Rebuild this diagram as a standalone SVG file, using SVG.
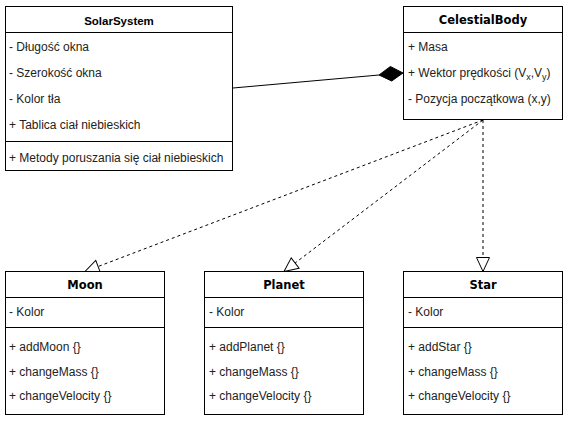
<svg xmlns="http://www.w3.org/2000/svg" width="570" height="425" viewBox="0 0 570 425">
<style>
.box{fill:#fff;stroke:#000;stroke-width:1}
.ln{stroke:#000;stroke-width:1;fill:none}
.title{font-family:"DejaVu Sans",Verdana,sans-serif;font-weight:bold;font-size:11.5px;fill:#000;text-anchor:middle}
.title2{font-family:"Liberation Sans",Arial,sans-serif;font-weight:bold;font-size:11.5px;fill:#000;text-anchor:middle}
.item{font-family:"Liberation Sans",Arial,sans-serif;font-size:12px;fill:#222}
.dash{stroke:#000;stroke-width:1;fill:none;stroke-dasharray:3 3}
</style>
<defs>
<marker id="tri" markerUnits="userSpaceOnUse" markerWidth="18" markerHeight="18" refX="14" refY="7" orient="auto" overflow="visible">
<path d="M0,0.5 L14,7 L0,13.5 z" fill="#fff" stroke="#000" stroke-width="1" stroke-dasharray="none"/>
</marker>
</defs>
<rect width="570" height="425" fill="#fff"/>
<g id="connectors">
<path class="ln" d="M233,88 L379,75"/>
<polygon points="403,73 391.7,81 379,75 390.4,66.5" fill="#000" stroke="#000" stroke-width="1"/>
<path class="dash" d="M483,120 L85,271.5" marker-end="url(#tri)"/>
<path class="dash" d="M483,120 L284,271.5" marker-end="url(#tri)"/>
<path class="dash" d="M483,120 L483,271.5" marker-end="url(#tri)"/>
</g>
<g id="SolarSystem">
<rect class="box" x="5.5" y="6.5" width="227" height="164"/>
<path class="ln" d="M5.5,32.5 H232.5 M5.5,141.5 H232.5"/>
<text class="title2" x="119" y="25">SolarSystem</text>
<text class="item" x="9" y="51">- Długość okna</text>
<text class="item" x="9" y="77">- Szerokość okna</text>
<text class="item" x="9" y="103">- Kolor tła</text>
<text class="item" x="9" y="129">+ Tablica ciał niebieskich</text>
<text class="item" x="9" y="162">+ Metody poruszania się ciał niebieskich</text>
</g>
<g id="CelestialBody">
<rect class="box" x="403.5" y="6.5" width="159" height="113"/>
<path class="ln" d="M403.5,32.5 H562.5"/>
<text class="title" x="483" y="24">CelestialBody</text>
<text class="item" x="408" y="51">+ Masa</text>
<text class="item" x="408" y="77">+ Wektor prędkości (V<tspan font-size="9" dy="3">x</tspan><tspan dy="-3">,V</tspan><tspan font-size="9" dy="3">y</tspan><tspan dy="-3">)</tspan></text>
<text class="item" x="408" y="103">- Pozycja początkowa (x,y)</text>
</g>
<g id="Moon">
<rect class="box" x="5.5" y="271.5" width="159" height="143"/>
<path class="ln" d="M5.5,297.5 H164.5 M5.5,327.5 H164.5"/>
<text class="title" x="85" y="289">Moon</text>
<text class="item" x="9" y="316">- Kolor</text>
<text class="item" x="9" y="351">+ addMoon {}</text>
<text class="item" x="9" y="375.5">+ changeMass {}</text>
<text class="item" x="9" y="400">+ changeVelocity {}</text>
</g>
<g id="Planet">
<rect class="box" x="204.5" y="271.5" width="159" height="143"/>
<path class="ln" d="M204.5,297.5 H363.5 M204.5,327.5 H363.5"/>
<text class="title" x="284" y="289">Planet</text>
<text class="item" x="209" y="316">- Kolor</text>
<text class="item" x="209" y="351">+ addPlanet {}</text>
<text class="item" x="209" y="375.5">+ changeMass {}</text>
<text class="item" x="209" y="400">+ changeVelocity {}</text>
</g>
<g id="Star">
<rect class="box" x="403.5" y="271.5" width="159" height="143"/>
<path class="ln" d="M403.5,297.5 H562.5 M403.5,327.5 H562.5"/>
<text class="title" x="483" y="289">Star</text>
<text class="item" x="408" y="316">- Kolor</text>
<text class="item" x="408" y="351">+ addStar {}</text>
<text class="item" x="408" y="375.5">+ changeMass {}</text>
<text class="item" x="408" y="400">+ changeVelocity {}</text>
</g>
</svg>
